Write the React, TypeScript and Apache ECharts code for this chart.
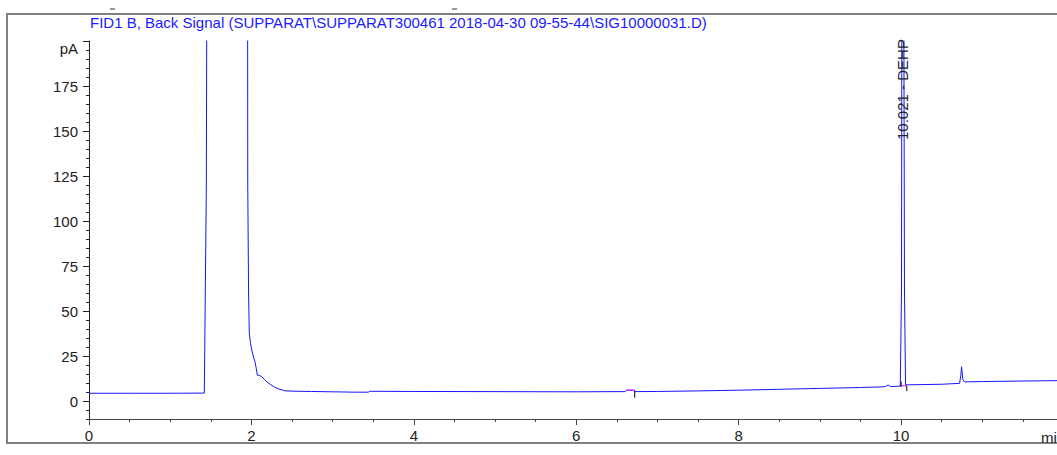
import React, { useEffect, useRef } from "react";
import * as echarts from "echarts";

const titleText =
  "FID1 B, Back Signal (SUPPARAT\\SUPPARAT300461 2018-04-30 09-55-44\\SIG10000031.D)";

// retention time (min)
const times = [
  0, 0.5, 1.0, 1.42, 1.445, 1.46, 1.95, 1.955, 1.965, 1.974, 1.99, 2.004, 2.025, 2.044,
  2.06, 2.073, 2.1, 2.127, 2.16, 2.188, 2.24, 2.29, 2.35, 2.41, 2.55, 2.74, 3.0, 3.28,
  3.44, 3.46, 4.0, 5.0, 6.0, 6.5, 6.6, 6.62, 6.7, 6.72, 7.0, 7.5, 8.0, 8.5, 9.0, 9.5,
  9.8, 9.84, 9.87, 9.99, 10.005, 10.012, 10.021, 10.03, 10.042, 10.055, 10.1, 10.5,
  10.72, 10.735, 10.745, 10.76, 10.78, 11.0, 11.5, 11.92,
];
// signal (pA)
const signal = [
  4.3, 4.3, 4.3, 4.4, 120, 400, 400, 120, 60, 37.6, 32, 28.3, 24.5, 21.8,
  18, 14.4, 14.2, 13.5, 12, 10.7, 9, 7.6, 6.5, 5.7, 5.4, 5.3, 5.1, 4.9,
  4.9, 5.4, 5.3, 5.2, 5.1, 5.2, 5.2, 6.0, 6.0, 5.2, 5.3, 5.6, 6.0, 6.5, 7.0, 7.5,
  7.9, 8.9, 8.0, 8.3, 60, 300, 600, 300, 60, 9.0, 9.0, 9.3,
  9.8, 14, 19, 12, 10.6, 10.8, 11.1, 11.3,
];

// integration baselines (magenta)
const baselineTimes = [6.62, 6.72, null, 10.0, 10.07];
const baselineValues = [6.0, 6.0, null, 8.4, 8.5];

// peak start/end tick marks (black)
const tickTimes = [6.72, 6.72, null, 10.0, 10.0, null, 10.07, 10.07];
const tickValues = [5.8, 1.8, null, 10.8, 7.8, null, 8.5, 5.5];

const peakLabelTime = 10.021;
const peakLabelText = "10.021 - DEHP";

const xMajorTicks = [0, 2, 4, 6, 8, 10];
const xMinorTicks = [
  0, 0.5, 1, 1.5, 2, 2.5, 3, 3.5, 4, 4.5, 5, 5.5, 6, 6.5, 7, 7.5, 8, 8.5, 9, 9.5, 10,
  10.5, 11, 11.5,
];
const yMajorTicks = [0, 25, 50, 75, 100, 125, 150, 175, 200];
const yMinorTicks = [
  -10, -5, 0, 5, 10, 15, 20, 25, 30, 35, 40, 45, 50, 55, 60, 65, 70, 75, 80, 85, 90, 95,
  100, 105, 110, 115, 120, 125, 130, 135, 140, 145, 150, 155, 160, 165, 170, 175, 180,
  185, 190, 195, 200,
];

const FONT = "'Liberation Sans', Arial, sans-serif";
const AXIS_COLOR = "#444";

function pairs(xs: (number | null)[], ys: (number | null)[]) {
  return xs.map((x, i) => (x === null ? [null, null] : [x, ys[i]]));
}

export default function App() {
  const ref = useRef<HTMLDivElement>(null);
  useEffect(() => {
    if (!ref.current) return;
    const chart = echarts.init(ref.current, null, { renderer: "svg" });
    const xMin = 0;
    const xMax = 11.92;
    const yMin = -10;
    const yMax = 200;
    const option: any = {
      animation: false,
      grid: { left: 89, top: 41, right: 0, bottom: 36 },
      xAxis: [
        {
          type: "value",
          min: xMin,
          max: xMax,
          position: "bottom",
          axisLine: { show: true, onZero: false, lineStyle: { color: AXIS_COLOR, width: 1 } },
          axisTick: { show: true, customValues: xMajorTicks, length: 6, inside: false, lineStyle: { color: AXIS_COLOR } },
          axisLabel: {
            show: true,
            customValues: xMajorTicks,
            margin: 9,
            fontSize: 15,
            fontFamily: FONT,
            color: "#222",
          },
          splitLine: { show: false },
        },
        {
          type: "value",
          min: xMin,
          max: xMax,
          position: "bottom",
          axisLine: { show: false, onZero: false },
          axisTick: { show: true, customValues: xMinorTicks, length: 3, lineStyle: { color: AXIS_COLOR } },
          axisLabel: { show: false },
          splitLine: { show: false },
        },
      ],
      yAxis: [
        {
          type: "value",
          min: yMin,
          max: yMax,
          position: "left",
          axisLine: { show: true, onZero: false, lineStyle: { color: "#222", width: 1 } },
          axisTick: { show: true, customValues: yMajorTicks, length: 6, lineStyle: { color: "#222" } },
          axisLabel: {
            show: true,
            customValues: yMajorTicks,
            margin: 11,
            fontSize: 15,
            fontFamily: FONT,
            color: "#222",
            formatter: (v: number) => (v === 200 ? "pA" : String(v)),
            verticalAlignMaxLabel: "top",
          },
          splitLine: { show: false },
        },
        {
          type: "value",
          min: yMin,
          max: yMax,
          position: "left",
          axisLine: { show: false, onZero: false },
          axisTick: { show: true, customValues: yMinorTicks, length: 3, lineStyle: { color: "#222" } },
          axisLabel: { show: false },
          splitLine: { show: false },
        },
      ],
      series: [
        {
          type: "line",
          data: pairs(times, signal),
          showSymbol: false,
          symbol: "none",
          clip: true,
          lineStyle: { color: "#1515ff", width: 1 },
          z: 2,
        },
        {
          type: "line",
          data: pairs(baselineTimes, baselineValues),
          showSymbol: false,
          symbol: "none",
          connectNulls: false,
          lineStyle: { color: "#ff00ff", width: 1 },
          z: 3,
        },
        {
          type: "line",
          data: pairs(tickTimes, tickValues),
          showSymbol: false,
          symbol: "none",
          connectNulls: false,
          lineStyle: { color: "#000", width: 1 },
          z: 3,
        },
      ],
    };
    chart.setOption(option);
    const px = chart.convertToPixel({ gridIndex: 0 }, [peakLabelTime, 0]) as number[];
    chart.setOption({
      graphic: [
        {
          type: "rect",
          shape: { x: 7, y: 14, width: 1070, height: 429 },
          style: { fill: "none", stroke: "#808080", lineWidth: 2 },
          silent: true,
        },
        {
          type: "text",
          x: 90,
          y: 22,
          style: {
            text: titleText,
            fill: "#1a1aff",
            font: `15px ${FONT}`,
            textAlign: "left",
            textVerticalAlign: "middle",
          },
        },
        {
          type: "line",
          shape: { x1: 110, y1: 9, x2: 115, y2: 9 },
          style: { stroke: "#333", lineWidth: 1 },
        },
        {
          type: "line",
          shape: { x1: 452, y1: 9, x2: 457, y2: 9 },
          style: { stroke: "#333", lineWidth: 1 },
        },
        {
          type: "text",
          x: px[0],
          y: 140,
          rotation: Math.PI / 2,
          style: {
            text: peakLabelText,
            fill: "#222",
            font: `15px ${FONT}`,
            textAlign: "left",
            textVerticalAlign: "middle",
          },
          z: 10,
        },
        {
          type: "text",
          x: 1041,
          y: 437,
          style: {
            text: "min",
            fill: "#222",
            font: `15px ${FONT}`,
            textAlign: "left",
            textVerticalAlign: "middle",
          },
        },
      ],
    });
    return () => chart.dispose();
  }, []);
  return (
    <div
      ref={ref}
      style={{ position: "fixed", left: 0, top: 0, width: 1057, height: 455, background: "#fff" }}
    />
  );
}
